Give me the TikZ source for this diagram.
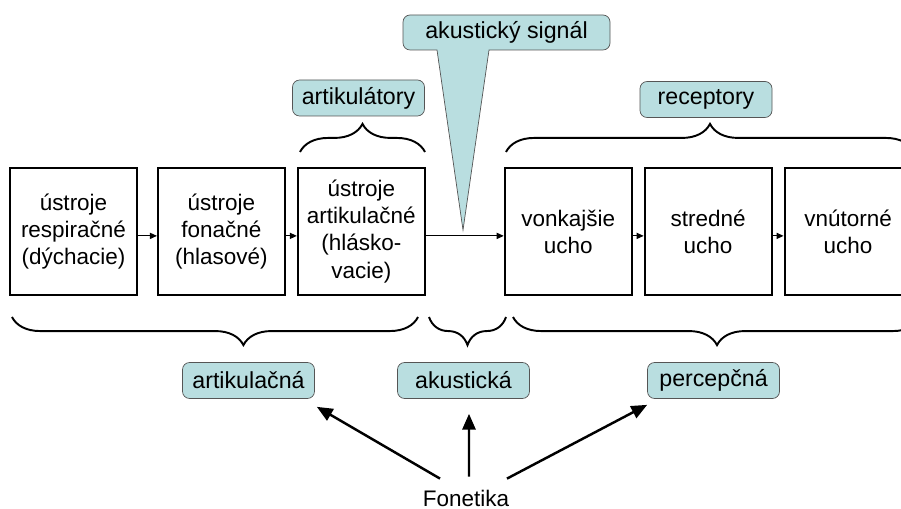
\documentclass[tikz,border=0pt]{standalone}
\usepackage{fontspec}
\setmainfont{Liberation Sans}
\usetikzlibrary{positioning,arrows.meta,decorations.pathreplacing,calc}
\definecolor{tagfill}{RGB}{185,222,224}
\definecolor{tagline}{RGB}{85,85,85}
\tikzset{
            organ/.style={draw, line width=1.1pt, minimum width=2.54cm, minimum height=2.54cm,
                          align=center, inner sep=1pt, font=\fontsize{12.8pt}{15.4pt}\selectfont},
            tag/.style={draw=tagline, fill=tagfill, rounded corners=4pt, minimum width=2.64cm,
                        minimum height=0.72cm, font=\fontsize{13.2pt}{15pt}\selectfont},
            flow/.style={-{Triangle[length=4pt,width=3.5pt]}, line width=0.6pt},
            curly/.style={decorate, decoration={brace, amplitude=16pt}, line width=1.1pt},
            branch/.style={-{Triangle[length=9pt,width=7.5pt]}, line width=1.4pt}
        }

\begin{document}
\begin{tikzpicture}[x=0.02cm, y=-0.02cm]
    \path[use as bounding box, clip] (0,0) rectangle (901,509);

    % speech organs and ear
    \node[organ] (resp) at (73.5,231.5) {ústroje\\respiračné\\(dýchacie)};
    \node[organ, right=0.38cm of resp] (fonac) {ústroje\\fonačné\\(hlasové)};
    \node[organ, right=0.22cm of fonac] (artac) {ústroje\\artikulačné\\(hlásko-\\vacie)};
    \node[organ, right=1.56cm of artac] (vonk) {vonkajšie\\ucho};
    \node[organ, right=0.22cm of vonk] (stred) {stredné\\ucho};
    \node[organ, right=0.22cm of stred] (vnut) {vnútorné\\ucho};

    \draw[flow] ([yshift=-2.5pt]resp.east) -- ([yshift=-2.5pt]fonac.west);
    \draw[flow] ([yshift=-2.5pt]fonac.east) -- ([yshift=-2.5pt]artac.west);
    \draw[flow] ([yshift=-2.5pt]artac.east) -- ([yshift=-2.5pt]vonk.west);
    \draw[flow] ([yshift=-2.5pt]vonk.east) -- ([yshift=-2.5pt]stred.west);
    \draw[flow] ([yshift=-2.5pt]stred.east) -- ([yshift=-2.5pt]vnut.west);

    % callout
    \filldraw[draw=tagline, fill=tagfill] (463,230) -- (437,50) [rounded corners=4pt] -- (403,50)
        -- (403,15) -- (610,15) -- (610,50) [sharp corners] -- (489,50) -- cycle;
    \node[font=\fontsize{13.2pt}{15pt}\selectfont] (sig) at (506.5,32.5) {akustický signál};

    % labels
    \node[tag] (artor) at (358.5,98) {artikulátory};
    \node[tag] (recep) at (706,99.5) {receptory};
    \node[tag] (artik) at (248.5,380.5) {artikulačná};
    \node[tag] (akust) at (463.5,380.5) {akustická};
    \node[tag] (percep) at (713.5,380.5) {percepčná};

    % braces
    \draw[curly] (300,152) -- (425,152);
    \draw[curly] (506,152) -- (914,152);
    \draw[curly, decoration={aspect=0.43}] (418,317) -- (12,317);
    \draw[curly] (506,317) -- (429,317);
    \draw[curly] (921,317) -- (513,317);

    \node[font=\fontsize{12.8pt}{15pt}\selectfont, anchor=base, inner sep=1pt] (fonet) at (466,506) {Fonetika};
    \draw[branch] ($(fonet.north)+(-26,-9)$) -- ($(artik.south east)+(2,8)$);
    \draw[branch] ($(fonet.north)+(3,-11)$) -- ($(akust.south)+(5.5,15)$);
    \draw[branch] ($(fonet.north)+(41,-9)$) -- ($(percep.south west)+(0,6)$);
\end{tikzpicture}
\end{document}
